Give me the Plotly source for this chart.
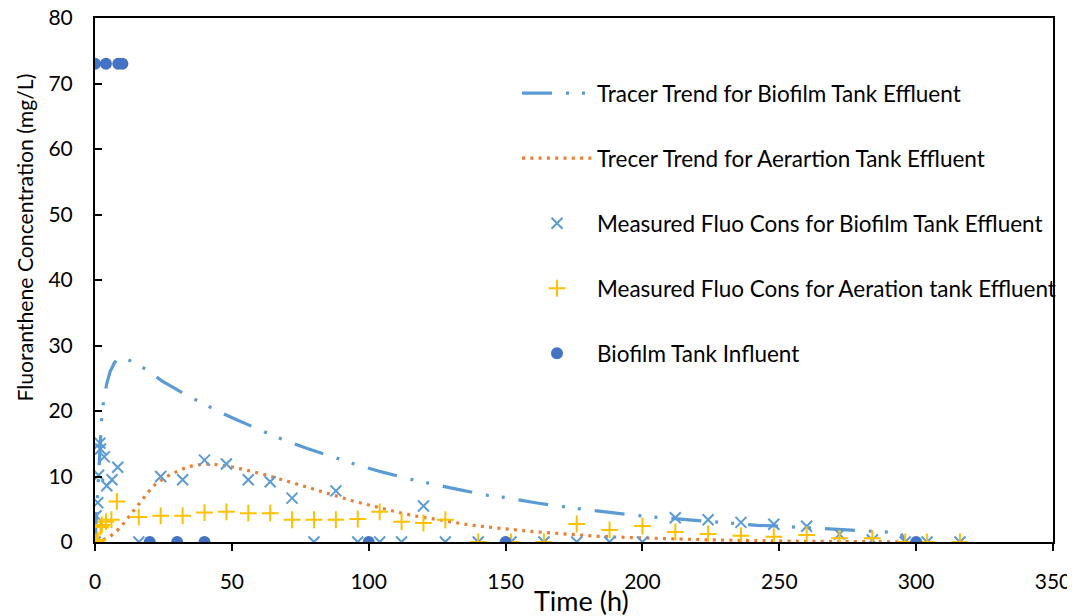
import plotly.graph_objects as go

# ---- data ----
trend_bio_t = [0, 0.5, 1, 1.5, 2, 2.5, 3.2, 4.3, 5.5, 7, 8.3, 10, 14.4, 20, 24.4, 33.5, 39.3, 44.7,
               50.5, 60.3, 65.8, 71.5, 77.3, 87.7, 93.2, 99, 104.7, 115.1, 121.2, 127.3, 133, 143.7,
               149.8, 155.9, 161.5, 172.6, 178.4, 184.5, 190.4, 201.6, 207.4, 219.2, 230.5, 242,
               248, 260, 265, 271, 277, 288.6, 294.4, 296]
trend_bio_c = [0, 4, 8, 13, 17, 19.3, 21.7, 24.2, 26, 27.3, 28.0, 28.2, 27.4, 26, 24.6, 22.4, 21.2, 20.0,
               18.9, 17.1, 16.1, 15.2, 14.3, 12.9, 12.1, 11.4, 10.7, 9.6, 9.1, 8.5, 8.0, 7.1,
               6.8, 6.3, 5.95, 5.3, 5.0, 4.6, 4.4, 3.9, 3.7, 3.35, 2.85, 2.55,
               2.45, 2.2, 2.05, 1.85, 1.73, 1.5, 1.4, 0]

trend_aer_t = [0, 2, 4, 6, 8, 10, 12, 14, 16, 18, 20, 22, 25, 28, 31, 34, 37, 40, 43, 46, 49, 52, 55,
               58, 61, 64, 67, 70, 73, 76, 79, 82, 85, 88, 94, 100, 106, 112, 118, 124, 130, 137,
               143, 149, 155, 161, 165, 171, 178, 184, 190, 196, 203, 209, 215, 221, 228, 234, 240,
               247, 260, 275, 294]
trend_aer_c = [0, 0.2, 0.5, 1.0, 1.7, 2.6, 3.7, 4.8, 5.8, 6.9, 7.9, 8.8, 9.7, 10.4, 11.0, 11.5, 11.75,
               11.9, 11.9, 11.75, 11.55, 11.3, 11.05, 10.7, 10.4, 10.05, 9.7, 9.3, 9.0, 8.6, 8.2,
               7.8, 7.4, 7.0, 6.3, 5.65, 5.0, 4.4, 3.9, 3.5, 3.0, 2.6, 2.3, 2.0, 1.8, 1.55, 1.42,
               1.17, 1.02, 0.87, 0.76, 0.66, 0.56, 0.5, 0.41, 0.36, 0.3, 0.25, 0.2, 0.15, 0.1,
               0.06, 0.03]

meas_bio_t = [0, 0.4, 1.0, 1.3, 1.8, 2.0, 3.4, 4.3, 6.2, 8.3, 16, 24, 32, 40, 48, 56, 64, 72, 80, 88,
              96, 104, 112, 120, 128, 140, 152, 164, 176, 188, 200, 212, 224, 236, 248, 260, 272,
              284, 296, 304, 316]
meas_bio_c = [0, 4.0, 6.0, 10.2, 15.1, 14.2, 13.0, 8.6, 9.5, 11.4, 0, 10.0, 9.5, 12.5, 11.9, 9.5, 9.2,
              6.7, 0, 7.8, 0, 0, 0, 5.5, 0, 0, 0, 0, 0, 0, 0, 3.7, 3.4, 3.0, 2.7, 2.4, 1.2, 0.3,
              0, 0, 0]

meas_aer_t = [0, 0.5, 1.0, 2.0, 2.5, 4.0, 6.0, 8.0, 16, 24, 32, 40, 48, 56, 64, 72, 80, 88, 96, 104,
              112, 120, 128, 140, 152, 164, 176, 188, 200, 212, 224, 236, 248, 260, 272, 284, 296,
              304, 316]
meas_aer_c = [0, 0, 0.3, 2.3, 2.6, 3.1, 3.4, 6.2, 3.8, 4.0, 4.0, 4.5, 4.6, 4.4, 4.4, 3.4, 3.4, 3.4,
              3.5, 4.6, 3.1, 2.9, 3.4, 0, 0, 0, 2.75, 1.83, 2.44, 1.53, 1.22, 0.97, 0.8, 1.07, 0.56,
              0.56, 0, 0, 0]

infl_t = [0, 4, 8.5, 10, 20, 30, 40, 100, 150, 300]
infl_c = [73, 73, 73, 73, 0, 0, 0, 0, 0, 0]

names = ["Tracer Trend for Biofilm Tank Effluent",
         "Trecer Trend for Aerartion Tank Effluent",
         "Measured Fluo Cons for Biofilm Tank Effluent",
         "Measured Fluo Cons for Aeration tank Effluent",
         "Biofilm Tank Influent"]

FONT = "Lato"
OFF = 8                      # default page body margin
W, H = 1075 - OFF, 616 - OFF
L, R, T, B = 95 - OFF, 22, 18 - OFF, 74

fig = go.Figure()
fig.add_trace(go.Scatter(x=trend_bio_t, y=trend_bio_c, mode="lines", name=names[0], legendgroup="g1",
                         line=dict(color="#5B9BD5", width=3.2, dash="30px,14px,3px,13px,3px,14px")))
fig.add_trace(go.Scatter(x=trend_aer_t, y=trend_aer_c, mode="lines", name=names[1], legendgroup="g2",
                         line=dict(color="#ED7D31", width=3.2, dash="3px,5.3px")))
fig.add_trace(go.Scatter(x=meas_bio_t, y=meas_bio_c, mode="markers", name=names[2], legendgroup="g3",
                         marker=dict(symbol="x-thin", size=11, color="#5B9BD5",
                                     line=dict(color="#5B9BD5", width=2))))
fig.add_trace(go.Scatter(x=meas_aer_t, y=meas_aer_c, mode="markers", name=names[3], legendgroup="g4",
                         marker=dict(symbol="cross-thin", size=12, color="#FFC000",
                                     line=dict(color="#FFC000", width=2))))
fig.add_trace(go.Scatter(x=infl_t, y=infl_c, mode="markers", name=names[4], legendgroup="g5",
                         marker=dict(symbol="circle", size=12, color="#4472C4")))

# screen pixel -> paper coordinates
def py(v):
    return (616 - B - v) / (H - T - B)

def px(v):
    return (v - 95) / (W - L - R)

fig.update_layout(
    width=W, height=H,
    margin=dict(l=L, r=R, t=T, b=B, autoexpand=False),
    paper_bgcolor="white", plot_bgcolor="white",
    font=dict(family=FONT, size=21, color="#000000"),
    showlegend=True,
    legend=dict(x=px(517), y=py(72), xanchor="left", yanchor="top",
                bgcolor="rgba(0,0,0,0)", tracegroupgap=32.8, itemwidth=70,
                font=dict(family=FONT, size=22.5, color="#000000")),
    xaxis=dict(range=[0, 350], dtick=50, tick0=0, showgrid=False, zeroline=False,
               automargin=False, ticklabeloverflow="allow",
               showline=True, linecolor="black", linewidth=2, mirror=True,
               ticks="outside", ticklen=7, tickwidth=2, tickcolor="black",
               ticklabelstandoff=13,
               tickfont=dict(family=FONT, size=21, color="#000000")),
    yaxis=dict(range=[0, 80], dtick=10, tick0=0, showgrid=False, zeroline=False,
               automargin=False, ticklabeloverflow="allow",
               showline=True, linecolor="black", linewidth=2, mirror=True,
               ticks="inside", ticklen=7, tickwidth=2, tickcolor="black",
               ticklabelstandoff=16,
               tickfont=dict(family=FONT, size=21, color="#000000")),
    annotations=[
        dict(text="Time (h)", xref="paper", yref="paper", x=px(581), y=py(600),
             xanchor="center", yanchor="middle", showarrow=False,
             font=dict(family=FONT, size=27, color="#000000")),
        dict(text="Fluoranthene Concentration (mg/L)", xref="paper", yref="paper",
             x=px(24), y=py(237.5), xanchor="center", yanchor="middle", showarrow=False,
             textangle=-90, font=dict(family=FONT, size=21.2, color="#000000")),
    ],
)

fig.write_html("out.html")
